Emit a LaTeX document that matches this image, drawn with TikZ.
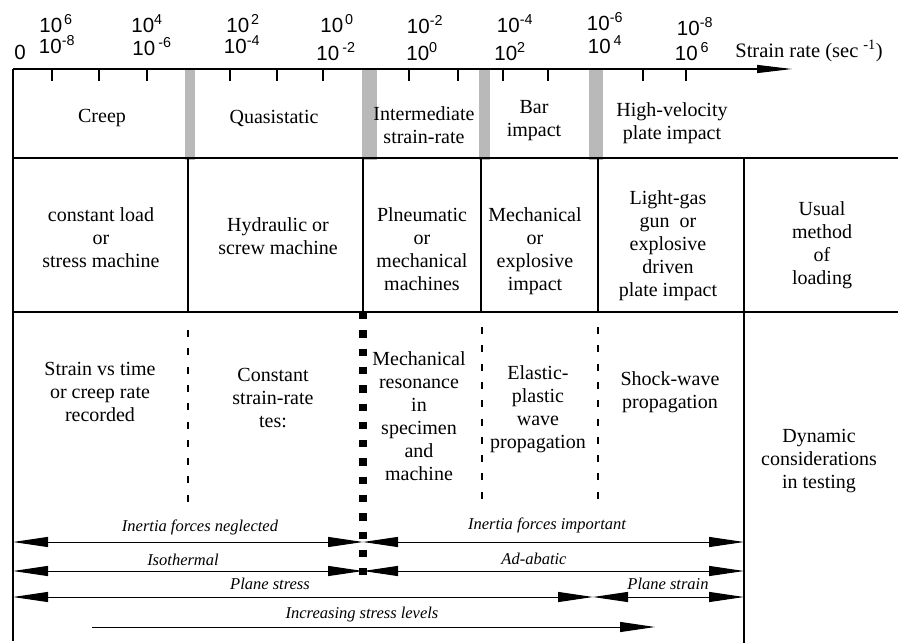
\documentclass[tikz,border=0pt]{standalone}
\usepackage{fontspec}
\setmainfont{Liberation Serif}
\newfontfamily\axisfont{Liberation Sans}
\usetikzlibrary{arrows.meta}
\definecolor{bargray}{RGB}{185,185,185}
\tikzset{
  tri/.tip={Triangle[length=35pt,width=10pt]},
  body/.style={align=center, font=\fontsize{20}{23}\selectfont, inner sep=0pt},
  lab/.style={font=\fontsize{16.5}{18}\selectfont\itshape, anchor=base, inner sep=0pt},
  ax/.style={font=\axisfont\fontsize{20.5}{22}\selectfont, anchor=base, inner sep=0pt},
  rule/.style={line width=1.1pt},
  dashrule/.style={line width=1.2pt, dash pattern=on 7pt off 11.3pt},
  dotrule/.style={line width=8pt, dash pattern=on 7.3pt off 11pt},
  band/.style={fill=bargray},
  tick/.style={line width=1.1pt},
  span/.style={line width=1pt, tri-tri},
  onearrow/.style={line width=1pt, -tri},
}
\begin{document}
\begin{tikzpicture}[x=1pt,y=-1pt]
\useasboundingbox (0,0) rectangle (898,643);
% gray bands
\fill[band] (185,69) rectangle (195,160);
\fill[band] (362,69) rectangle (377,160);
\fill[band] (479,69) rectangle (490,160);
\fill[band] (589,69) rectangle (603,160);
% axis
\coordinate (a0) at (13,69);
\coordinate (a1) at (792,69);
\draw[rule, -{Triangle[length=35pt,width=8pt]}] (a0) -- (a1);
\foreach \x in {52,99,147,230,277,323,409,458,503,548,643,686}
  \draw[tick] (\x,69) -- (\x,81);
% frame lines
\coordinate (l0) at (13,69); \coordinate (l1) at (13,641);
\draw[rule] (l0) -- (l1);
\coordinate (h1a) at (13,158); \coordinate (h1b) at (898,158);
\coordinate (h2a) at (13,312); \coordinate (h2b) at (898,312);
\draw[rule] (h1a) -- (h1b);
\draw[rule] (h2a) -- (h2b);
\foreach \x in {188,363,481,598}
  \draw[rule] (\x,158) -- (\x,312);
\coordinate (r0) at (744,158); \coordinate (r1) at (744,643);
\draw[rule] (r0) -- (r1);
% row 3 separators
\draw[dashrule] (188,330) -- (188,505);
\draw[dashrule] (482,327) -- (482,505);
\draw[dashrule] (598,327) -- (598,505);
\draw[dotrule] (363,312) -- (363,575);
% axis labels
\node[ax] (u1) at (56,32) {10\kern2pt\textsuperscript{6}};
\node[ax] (u2) at (147,32) {10\textsuperscript{4}};
\node[ax] (u3) at (243,32) {10\kern2pt\textsuperscript{2}};
\node[ax] (u4) at (337,32) {10\kern2pt\textsuperscript{0}};
\node[ax] (u5) at (425,33) {10\textsuperscript{-2}};
\node[ax] (u6) at (515,32) {10\textsuperscript{-4}};
\node[ax] (u7) at (605,30) {10\textsuperscript{-6}};
\node[ax] (u8) at (695,35) {10\textsuperscript{-8}};
\node[ax] (d0) at (20,59) {0};
\node[ax] (d1) at (57,53) {10\textsuperscript{-8}};
\node[ax] (d2) at (152,55) {10\kern3pt\textsuperscript{-6}};
\node[ax] (d3) at (242,53) {10\textsuperscript{-4}};
\node[ax] (d4) at (336,60) {10\kern3pt\textsuperscript{-2}};
\node[ax] (d5) at (422,60) {10\textsuperscript{0}};
\node[ax] (d6) at (510,60) {10\textsuperscript{2}};
\node[ax] (d7) at (605,53) {10\kern3pt\textsuperscript{4}};
\node[ax] (d8) at (692,60) {10\kern3pt\textsuperscript{6}};
\node[font=\fontsize{20.5}{22}\selectfont, anchor=base, inner sep=0pt] (sr) at (809,57) {Strain rate (sec\kern5pt\textsuperscript{-1})};
% row 1
\node[body] (creep) at (102,118) {Creep};
\node[body] (quasi) at (274,118) {Quasistatic};
\node[body] (inter) at (424,125) {Intermediate\\strain-rate};
\node[body] (bar) at (534,121) {Bar\\impact};
\node[body] (hv) at (672,123) {High-velocity\\plate impact};
% row 2
\node[body] (m1) at (101,238) {constant load\\or\\stress machine};
\node[body] (m2) at (278,236) {Hydraulic or\\screw machine};
\node[body] (m3) at (422,249) {Plneumatic\\or\\mechanical\\machines};
\node[body] (m4) at (535,251) {Mechanical\\or\\explosive\\impact};
\node[body] (m5) at (668,246) {Light-gas\\gun~~or\\explosive\\driven\\plate impact};
\node[body] (m6) at (822,245) {Usual\\method\\of\\loading};
% row 3
\node[body] (c1) at (100,392) {Strain vs time\\or creep rate\\recorded};
\node[body] (c2) at (273,398) {Constant\\strain-rate\\tes:};
\node[body] (c3) at (419,416) {Mechanical\\resonance\\in\\specimen\\and\\machine};
\node[body] (c4) at (538,409) {Elastic-\\plastic\\wave\\propagation};
\node[body] (c5) at (670,392) {Shock-wave\\propagation};
\node[body] (c6) at (819,461) {Dynamic\\considerations\\in testing};
% arrows
\coordinate (p1a) at (13,542); \coordinate (p1m) at (363,542); \coordinate (p1b) at (744,542);
\coordinate (p2a) at (13,571); \coordinate (p2m) at (363,571); \coordinate (p2b) at (744,571);
\coordinate (p3a) at (13,597); \coordinate (p3m) at (593,597); \coordinate (p3b) at (744,597);
\coordinate (p4a) at (92,627); \coordinate (p4b) at (655,627);
\draw[span] (p1a) -- (p1m);
\draw[span] (p1m) -- (p1b);
\draw[span] (p2a) -- (p2m);
\draw[span] (p2m) -- (p2b);
\draw[span] (p3a) -- (p3m);
\draw[span] (p3m) -- (p3b);
\draw[onearrow] (p4a) -- (p4b);
\node[lab] (t1) at (200,531) {Inertia forces neglected};
\node[lab] (t2) at (547,529) {Inertia forces important};
\node[lab] (t3) at (183,565) {Isothermal};
\node[lab] (t4) at (534,564) {Ad-abatic};
\node[lab] (t5) at (270,589) {Plane stress};
\node[lab] (t6) at (668,589) {Plane strain};
\node[lab] (t7) at (362,618) {Increasing stress levels};
\end{tikzpicture}
\end{document}
